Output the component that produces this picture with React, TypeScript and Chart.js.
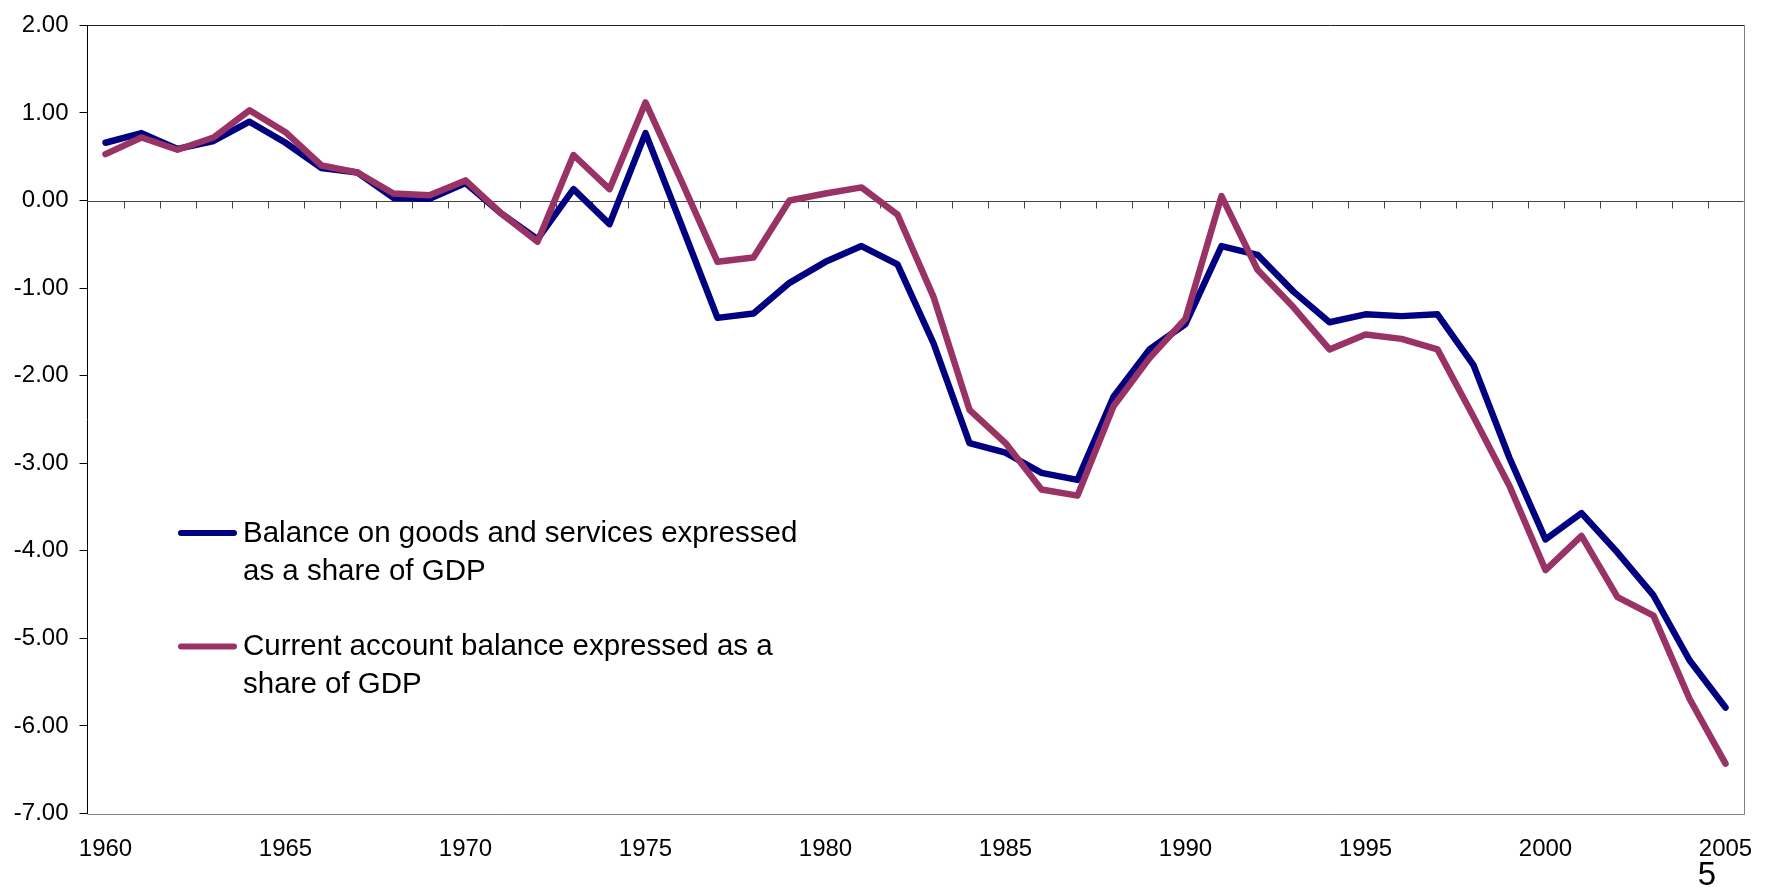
import { useEffect, useRef } from "react";
import { Chart, registerables } from "chart.js";

Chart.register(...registerables);

// Years on the category axis
const years: string[] = [
  "1960", "1961", "1962", "1963", "1964", "1965", "1966", "1967", "1968", "1969",
  "1970", "1971", "1972", "1973", "1974", "1975", "1976", "1977", "1978", "1979",
  "1980", "1981", "1982", "1983", "1984", "1985", "1986", "1987", "1988", "1989",
  "1990", "1991", "1992", "1993", "1994", "1995", "1996", "1997", "1998", "1999",
  "2000", "2001", "2002", "2003", "2004", "2005",
];

// Balance on goods and services, % of GDP
const goodsServicesShare: number[] = [
  0.66, 0.77, 0.59, 0.68, 0.9, 0.66, 0.37, 0.32, 0.03, 0.02,
  0.2, -0.15, -0.44, 0.13, -0.27, 0.77, -0.28, -1.34, -1.29, -0.94,
  -0.7, -0.52, -0.73, -1.63, -2.77, -2.88, -3.11, -3.19, -2.24, -1.7,
  -1.41, -0.52, -0.62, -1.04, -1.39, -1.3, -1.32, -1.3, -1.88, -2.94,
  -3.87, -3.57, -4.02, -4.51, -5.25, -5.79,
];

// Current account balance, % of GDP
const currentAccountShare: number[] = [
  0.53, 0.72, 0.58, 0.72, 1.03, 0.78, 0.4, 0.32, 0.08, 0.06,
  0.23, -0.15, -0.47, 0.52, 0.13, 1.12, 0.22, -0.7, -0.65, 0.0,
  0.08, 0.15, -0.16, -1.1, -2.39, -2.77, -3.3, -3.37, -2.35, -1.8,
  -1.35, 0.05, -0.79, -1.22, -1.7, -1.53, -1.58, -1.7, -2.47, -3.26,
  -4.22, -3.83, -4.53, -4.74, -5.69, -6.43,
];

// Value axis range
const yMin = -7;
const yMax = 2;
const yStep = 1;

// Legend text, split into the lines it is printed on
const goodsLegendLines: string[] = ["Balance on goods and services expressed", "as a share of GDP"];
const currentLegendLines: string[] = ["Current account balance expressed as a", "share of GDP"];

const pageNumber = "5";

const FONT = "'Liberation Sans', Arial, Helvetica, sans-serif";
const NAVY = "#000080";
const PLUM = "#993366";

// Plot frame, zero axis with its tick marks between categories
const framePlugin = {
  id: "frame",
  beforeDatasetsDraw(chart: any) {
    const { ctx, chartArea: a, scales } = chart;
    const xs = scales.x;
    const y0 = Math.round(scales.y.getPixelForValue(0)) + 0.5;
    ctx.save();
    ctx.lineWidth = 1;

    ctx.strokeStyle = "#444444";
    ctx.beginPath();
    ctx.moveTo(a.left, y0);
    ctx.lineTo(a.right, y0);
    for (let i = 1; i < years.length; i++) {
      const x = Math.round((xs.getPixelForValue(i - 1) + xs.getPixelForValue(i)) / 2) + 0.5;
      ctx.moveTo(x, y0);
      ctx.lineTo(x, y0 + 7);
    }
    ctx.stroke();

    const top = Math.round(a.top) + 0.5;
    const right = Math.round(a.right) + 0.5;
    const bottom = Math.round(a.bottom) + 0.5;
    ctx.strokeStyle = "#222222";
    ctx.beginPath();
    ctx.moveTo(a.left, top);
    ctx.lineTo(right, top);
    ctx.stroke();

    ctx.strokeStyle = "#808080";
    ctx.beginPath();
    ctx.moveTo(right, top);
    ctx.lineTo(right, bottom);
    ctx.lineTo(a.left, bottom);
    ctx.stroke();
    ctx.restore();
  },
  afterDraw(chart: any) {
    const { ctx } = chart;
    ctx.save();
    // Legend inside the plot
    const items = [
      { color: NAVY, lines: goodsLegendLines, baseline: 541.5 },
      { color: PLUM, lines: currentLegendLines, baseline: 655 },
    ];
    ctx.font = `29.5px ${FONT}`;
    ctx.textAlign = "left";
    ctx.textBaseline = "alphabetic";
    for (const item of items) {
      ctx.strokeStyle = item.color;
      ctx.lineWidth = 6;
      ctx.lineCap = "round";
      ctx.beginPath();
      ctx.moveTo(181, item.baseline - 8.5);
      ctx.lineTo(234, item.baseline - 8.5);
      ctx.stroke();
      ctx.fillStyle = "#000000";
      item.lines.forEach((line, i) => {
        ctx.fillText(line, 243, item.baseline + i * 38);
      });
    }
    // Page number
    ctx.font = `33px ${FONT}`;
    ctx.textAlign = "center";
    ctx.fillText(pageNumber, 1707, 885);
    ctx.restore();
  },
};

export default function App() {
  const canvasRef = useRef<HTMLCanvasElement | null>(null);

  useEffect(() => {
    if (!canvasRef.current) return;
    const chart = new Chart(canvasRef.current, {
      type: "line",
      data: {
        labels: years,
        datasets: [
          {
            label: goodsLegendLines.join(" "),
            data: goodsServicesShare,
            borderColor: NAVY,
            backgroundColor: NAVY,
            borderWidth: 6.5,
            pointRadius: 0,
            tension: 0,
            borderJoinStyle: "round",
            borderCapStyle: "round",
            order: 2,
          },
          {
            label: currentLegendLines.join(" "),
            data: currentAccountShare,
            borderColor: PLUM,
            backgroundColor: PLUM,
            borderWidth: 6.5,
            pointRadius: 0,
            tension: 0,
            borderJoinStyle: "round",
            borderCapStyle: "round",
            order: 1,
          },
        ],
      },
      options: {
        animation: false,
        responsive: true,
        maintainAspectRatio: false,
        devicePixelRatio: 1,
        layout: { padding: { top: 22.5, right: 23.5, left: 0, bottom: 0 } },
        plugins: {
          legend: { display: false },
          tooltip: { enabled: false },
        },
        scales: {
          x: {
            type: "category",
            offset: true,
            grid: { display: false },
            border: { display: false },
            ticks: {
              autoSkip: false,
              maxRotation: 0,
              minRotation: 0,
              padding: 13,
              color: "#000000",
              font: { family: FONT, size: 24 },
              callback: function (this: any, value: any) {
                const label = this.getLabelForValue(value);
                return Number(label) % 5 === 0 ? label : "";
              },
            },
            afterFit: (scale: any) => {
              scale.height = 73.5;
            },
          },
          y: {
            min: yMin,
            max: yMax,
            grid: {
              drawOnChartArea: false,
              drawTicks: true,
              tickLength: 8,
              color: "#000000",
            },
            border: { display: true, color: "#000000", width: 1 },
            ticks: {
              stepSize: yStep,
              padding: 11,
              color: "#000000",
              font: { family: FONT, size: 24 },
              callback: (v: any) => Number(v).toFixed(2),
            },
            afterFit: (scale: any) => {
              scale.width = 87.5;
            },
          },
        },
      },
      plugins: [framePlugin],
    });
    return () => chart.destroy();
  }, []);

  return (
    <div
      style={{
        position: "fixed",
        left: 0,
        top: 0,
        width: "1767px",
        height: "887px",
        background: "#ffffff",
      }}
    >
      <canvas ref={canvasRef} />
    </div>
  );
}
